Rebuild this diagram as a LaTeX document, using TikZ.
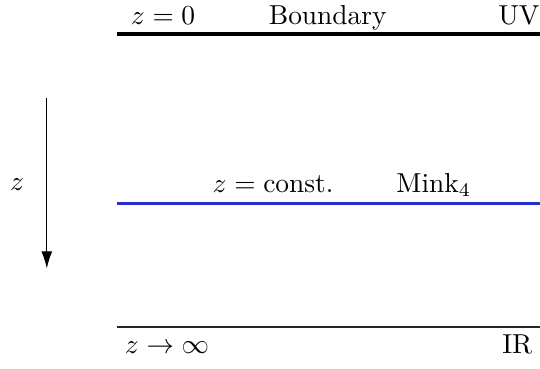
\documentclass[tikz,border=0pt]{standalone}
\definecolor{slicebue}{RGB}{38, 48, 205}
\usepackage{tikz}
\usetikzlibrary{arrows.meta, positioning, calc}
\usepackage{amsmath, amssymb}

\begin{document}
\begin{tikzpicture}[
  bdry/.style={draw=black, line width=1.5pt},
  slice/.style={draw=slicebue, line width=1.2pt},
  horizon/.style={draw=black!85, line width=0.5pt},
  lbl/.style={anchor=base, inner sep=0pt}
]
  \useasboundingbox (0, 0) rectangle (6.92, 4.72);
  % boundary (UV)
  \coordinate (uvL) at (1.50, 4.28);
  \coordinate (uvR) at (6.92, 4.28);
  \draw[bdry] (uvL) -- (uvR);
  \node[lbl] (zzero) at (2.09, 4.40) {$z=0$};
  \node[lbl] (bname) at (4.20, 4.40) {Boundary};
  \node[lbl, anchor=base east] (uv) at (6.92, 4.40) {UV};
  % constant-z slice
  \coordinate (slL) at (1.50, 2.11);
  \coordinate (slR) at (6.92, 2.11);
  \draw[slice] (slL) -- (slR);
  \node[lbl] (zconst) at (3.50, 2.25) {$z=\text{const.}$};
  \node[lbl] (mink) at (5.56, 2.25) {Mink$_4$};
  % deep interior (IR)
  \coordinate (irL) at (1.50, 0.53);
  \coordinate (irR) at (6.92, 0.53);
  \draw[horizon] (irL) -- (irR);
  \node[lbl] (zinf) at (2.14, 0.19) {$z\to\infty$};
  \node[lbl, anchor=base east] (ir) at (6.83, 0.19) {IR};
  % radial direction
  \coordinate (atop) at (0.60, 3.46);
  \coordinate (abot) at (0.60, 1.28);
  \draw[-{Latex[length=2.2mm, width=1.4mm]}, line width=0.4pt] (atop) -- (abot);
  \node[inner sep=0pt] (zdir) at (0.22, 2.35) {$z$};
\end{tikzpicture}
\end{document}
